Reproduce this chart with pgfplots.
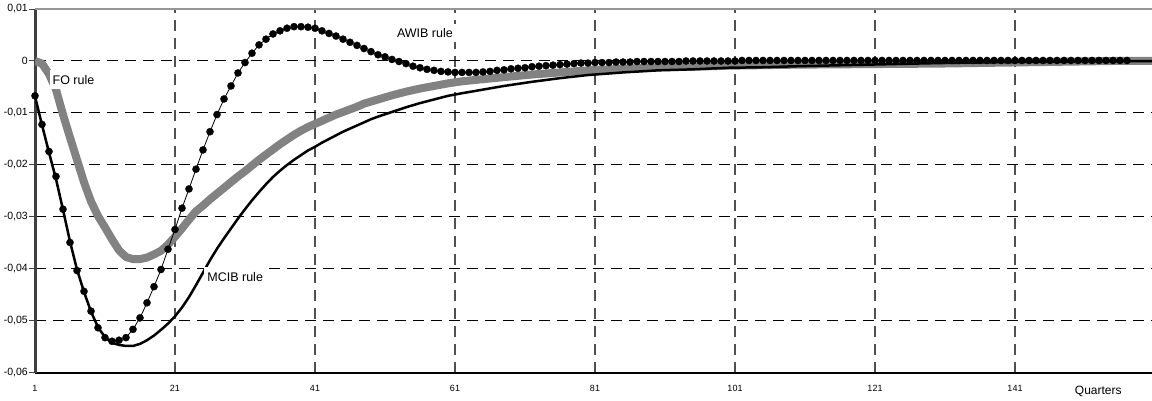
\documentclass[border=0pt]{standalone}
\usepackage{pgfplots}
\pgfplotsset{compat=1.18}
\usepackage{fontspec}
\setmainfont{Liberation Sans}
\definecolor{foGray}{RGB}{130,130,130}
\definecolor{axGray}{RGB}{64,64,64}
\definecolor{topGray}{RGB}{150,150,150}
\definecolor{vgrid}{RGB}{80,80,80}

\begin{document}
\begin{tikzpicture}
\begin{axis}[
  at={(35pt,28pt)}, anchor=south west,
  scale only axis, width=1117pt, height=364pt,
  xmin=1, xmax=160.57, ymin=-0.06, ymax=0.01,
  clip mode=individual,
  axis x line*=bottom, axis y line*=left,
  x axis line style={black, line width=2pt, -},
  y axis line style={axGray, line width=3pt, -},
  xtick={1,21,41,61,81,101,121,141},
  xticklabels={1,21,41,61,81,101,121,141},
  ytick={-0.06,-0.05,-0.04,-0.03,-0.02,-0.01,0,0.01},
  yticklabels={{-0,06},{-0,05},{-0,04},{-0,03},{-0,02},{-0,01},{0},{0,01}},
  tick align=outside, major tick length=6pt,
  xtick style={draw=none},
  ytick style={axGray, line width=1pt},
  yticklabel style={font=\fontsize{10.5}{12}\selectfont, inner xsep=1pt},
  xticklabel style={font=\fontsize{9}{10}\selectfont, yshift=-3pt},
  grid=major,
  x grid style={vgrid, line width=1.2pt, dash pattern=on 11pt off 7pt},
  y grid style={black, line width=1pt, dash pattern=on 11pt off 7pt},
]
\draw[topGray, line width=2.5pt] (rel axis cs:0,1) -- (rel axis cs:1,1);

% FO rule
\addplot[foGray, line width=8pt, line join=bevel, no marks] coordinates {
(1,0) (2,-0.0005) (3,-0.0025) (4,-0.0055) (5,-0.0103) (6,-0.0147) (7,-0.0190) (8,-0.0233) (9,-0.0270) (10,-0.0298)
(11,-0.0320) (12,-0.0343) (13,-0.0364) (14,-0.0377) (15,-0.0381) (16,-0.0381) (17,-0.0378) (18,-0.0372) (19,-0.0365) (20,-0.0353)
(21,-0.0338) (22,-0.0322) (23,-0.0305) (24,-0.0289) (25,-0.0278) (26,-0.0266) (27,-0.0255) (28,-0.0244) (29,-0.0233) (30,-0.0222)
(31,-0.0212) (32,-0.0201) (33,-0.0190) (34,-0.0180) (35,-0.0170) (36,-0.0160) (37,-0.0151) (38,-0.0142) (39,-0.0134) (40,-0.0127)
(41,-0.0121) (42,-0.0115) (43,-0.0109) (44,-0.0103) (45,-0.0098) (46,-0.0093) (47,-0.0088) (48,-0.0082) (49,-0.0078) (50,-0.0074)
(52,-0.0066) (54,-0.0059) (56,-0.0053) (58,-0.0048) (60,-0.0043) (62,-0.0039) (65,-0.0035) (68,-0.0031) (72,-0.0026) (76,-0.0022)
(80,-0.0018) (85,-0.0015) (90,-0.0012) (95,-0.0011) (100,-0.0009) (105,-0.0008) (110,-0.0007) (120,-0.0006) (130,-0.0005)
(140,-0.0003) (150,-0.0001) (155,0) (161,0)
};

% MCIB rule
\addplot[black, line width=2.5pt, line join=round, no marks] coordinates {
(1,-0.0068) (2,-0.0123) (3,-0.0176) (4,-0.0227) (5,-0.0286) (6,-0.0347) (7,-0.0401) (8,-0.0444) (9,-0.0482) (10,-0.0512)
(11,-0.0531) (12,-0.0542) (13,-0.0546) (14,-0.0548) (15,-0.0548) (16,-0.0544) (17,-0.0537) (18,-0.0528) (19,-0.0517) (20,-0.0505)
(21,-0.0491) (22,-0.0474) (23,-0.0454) (24,-0.0431) (25,-0.0407) (26,-0.0383) (27,-0.0361) (28,-0.0341) (29,-0.0322) (30,-0.0303)
(31,-0.0285) (32,-0.0268) (33,-0.0252) (34,-0.0237) (35,-0.0223) (36,-0.0211) (37,-0.0200) (38,-0.0190) (39,-0.0181) (40,-0.0172)
(41,-0.0165) (42,-0.0157) (43,-0.0150) (44,-0.0143) (45,-0.0136) (46,-0.0130) (47,-0.0124) (48,-0.0118) (49,-0.0112) (50,-0.0107)
(52,-0.0098) (54,-0.0089) (56,-0.0081) (58,-0.0074) (60,-0.0067) (62,-0.0062) (65,-0.0055) (68,-0.0048) (72,-0.0040) (76,-0.0033)
(80,-0.0027) (85,-0.0022) (90,-0.0018) (95,-0.0016) (100,-0.0013) (105,-0.0012) (110,-0.0010) (120,-0.0007) (130,-0.0004)
(140,-0.0002) (150,-0.0001) (161,0)
};

% AWIB rule
\addplot[black, line width=0.8pt, mark=*, mark size=3.6pt, mark options={solid, fill=black, line width=0.3pt}] coordinates {
(1,-0.0067) (2,-0.0122) (3,-0.0174) (4,-0.0222) (5,-0.0285) (6,-0.0349) (7,-0.0403) (8,-0.0443) (9,-0.0481) (10,-0.0513)
(11,-0.0532) (12,-0.0539) (13,-0.0537) (14,-0.0532) (15,-0.0516) (16,-0.0494) (17,-0.0465) (18,-0.0434) (19,-0.0401) (20,-0.0362)
(21,-0.0324) (22,-0.0283) (23,-0.0246) (24,-0.0208) (25,-0.0171) (26,-0.0136) (27,-0.0103) (28,-0.0073) (29,-0.0048) (30,-0.0023)
(31,-0.0003) (32,0.0015) (33,0.0031) (34,0.0042) (35,0.0052) (36,0.0058) (37,0.0063) (38,0.0066) (39,0.0066) (40,0.0065)
(41,0.0063) (42,0.0058) (43,0.0053) (44,0.0048) (45,0.0042) (46,0.0036) (47,0.0030) (48,0.0024) (49,0.0018) (50,0.0012)
(51,0.0008) (52,0.0003) (53,-0.0001) (54,-0.0005) (55,-0.0010) (56,-0.0013) (57,-0.0016) (58,-0.0018) (59,-0.0020) (60,-0.0021)
(61,-0.0022) (62,-0.0022) (63,-0.0022) (64,-0.0022) (65,-0.0021) (66,-0.0020) (67,-0.0018) (68,-0.0017) (69,-0.0015) (70,-0.0014)
(71,-0.0013) (72,-0.0011) (73,-0.0010) (74,-0.0009) (75,-0.0008) (76,-0.0007) (77,-0.0006) (78,-0.0005) (79,-0.0004) (80,-0.0004)
(81,-0.0003) (82,-0.0003) (83,-0.0003) (84,-0.0002) (85,-0.0002) (86,-0.0002) (87,-0.0001) (88,-0.0001) (89,-0.0001) (90,-0.0001)
(91,-0.0001) (92,-0.0001) (93,-0.0001) (94,0) (95,0) (96,0) (97,0) (98,0) (99,0) (100,0)
(101,0) (102,0.0001) (103,0.0001) (104,0.0001) (105,0.0001) (106,0.0001) (107,0.0001) (108,0.0001) (109,0.0001) (110,0.0001)
(111,0.0001) (112,0.0001) (113,0.0001) (114,0.0001) (115,0.0001) (116,0.0001) (117,0.0001) (118,0.0001) (119,0.0001) (120,0.0001)
(121,0.0001) (122,0.0001) (123,0.0001) (124,0.0001) (125,0.0001) (126,0.0001) (127,0.0001) (128,0.0001) (129,0.0001) (130,0.0001)
(131,0.0001) (132,0.0001) (133,0.0001) (134,0.0001) (135,0.0001) (136,0.0001) (137,0.0001) (138,0.0001) (139,0.0001) (140,0.0001)
(141,0.0001) (142,0.0001) (143,0.0001) (144,0.0001) (145,0.0001) (146,0.0001) (147,0.0001) (148,0.0001) (149,0.0001) (150,0.0001)
(151,0.0001) (152,0.0001) (153,0.0001) (154,0.0001) (155,0.0001) (156,0.0001) (157,0.0001)
};

\node[fill=white, inner xsep=3pt, inner ysep=5pt, font=\fontsize{12.5}{14}\selectfont] at (axis cs:6.5,-0.0036) {FO rule};
\node[fill=white, inner xsep=3pt, inner ysep=5pt, font=\fontsize{12.5}{14}\selectfont] at (axis cs:29.6,-0.0415) {MCIB rule};
\node[fill=white, inner xsep=3pt, inner ysep=4pt, font=\fontsize{12.5}{14}\selectfont] at (axis cs:56.7,0.0054) {AWIB rule};
\node[font=\fontsize{12}{14}\selectfont] at (axis cs:152.9,-0.06) [yshift=-18pt] {Quarters};
\end{axis}
\pgfresetboundingbox
\path[use as bounding box] (0,0) rectangle (1152pt,401pt);
\end{tikzpicture}
\end{document}
